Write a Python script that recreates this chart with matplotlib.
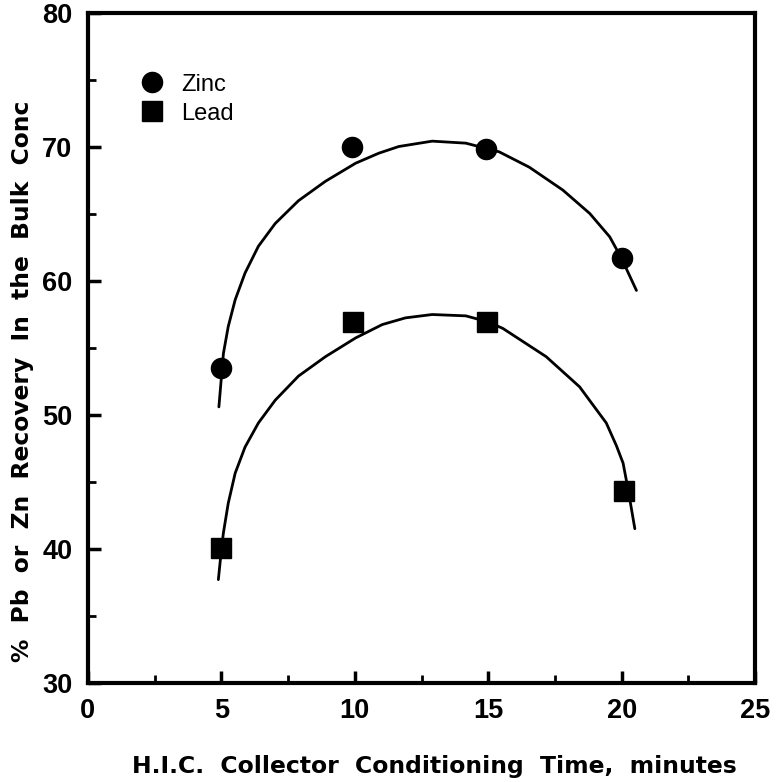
import matplotlib
matplotlib.use("Agg")
import matplotlib.pyplot as plt
from matplotlib.ticker import MultipleLocator

# Measured data points
time_zinc = [5.0, 9.9, 14.9, 20.0]
rec_zinc = [53.5, 70.0, 69.9, 61.7]
time_lead = [5.0, 9.95, 14.95, 20.08]
rec_lead = [40.05, 56.95, 56.95, 44.3]

# Hand-drawn trend curves
curve_zinc_x = [4.91, 5.08, 5.26, 5.52, 5.89, 6.39, 7.02, 7.89, 8.9, 10.03, 10.9, 11.65,
                12.9, 14.16, 15.41, 16.54, 17.79, 18.8, 19.55, 19.99, 20.55]
curve_zinc_y = [50.6, 54.6, 56.6, 58.6, 60.6, 62.6, 64.3, 66.0, 67.45, 68.8, 69.55, 70.05,
                70.45, 70.3, 69.65, 68.5, 66.8, 65.05, 63.3, 61.7, 59.3]
curve_lead_x = [4.89, 5.01, 5.08, 5.26, 5.52, 5.89, 6.39, 7.02, 7.89, 8.9, 10.03, 11.03,
                11.9, 12.9, 14.16, 14.97, 15.54, 17.17, 18.42, 19.42, 19.8, 20.05, 20.25,
                20.49]
curve_lead_y = [37.7, 40.05, 41.2, 43.4, 45.65, 47.6, 49.4, 51.1, 52.9, 54.35, 55.75, 56.75,
                57.25, 57.5, 57.4, 56.96, 56.47, 54.35, 52.1, 49.4, 47.7, 46.4, 44.3,
                41.5]

x_ticks = [0, 5, 10, 15, 20, 25]
y_ticks = [30, 40, 50, 60, 70, 80]

fig = plt.figure(figsize=(7.77, 7.82), dpi=100)
ax = fig.add_axes([0.113, 0.127, 0.859, 0.856])

ax.plot(curve_zinc_x, curve_zinc_y, color="black", lw=2.0, solid_capstyle="round",
        solid_joinstyle="round")
ax.plot(curve_lead_x, curve_lead_y, color="black", lw=2.0, solid_capstyle="round",
        solid_joinstyle="round")
ax.plot(time_zinc, rec_zinc, "o", color="black", ms=14.5, label="Zinc", zorder=3)
ax.plot(time_lead, rec_lead, "s", color="black", ms=14, label="Lead", zorder=3)

ax.set_xlim(0, 25)
ax.set_ylim(30, 80)
ax.set_xticks(x_ticks)
ax.set_yticks(y_ticks)
ax.xaxis.set_minor_locator(MultipleLocator(2.5))
ax.yaxis.set_minor_locator(MultipleLocator(5))
ax.tick_params(which="major", direction="in", length=9, width=2.5,
               top=False, right=False, labelsize=19.5, pad=11)
ax.tick_params(which="minor", direction="in", length=5.5, width=2,
               top=False, right=False)
for lab in ax.get_xticklabels() + ax.get_yticklabels():
    lab.set_family("Liberation Sans")
    lab.set_fontweight("bold")
for s in ax.spines.values():
    s.set_linewidth(3)
    s.set_color("black")

ax.set_xlabel("H.I.C.  Collector  Conditioning  Time,  minutes",
              fontsize=16.9, fontweight="bold", family="DejaVu Sans", labelpad=22)
ax.xaxis.label.set_x(0.52)
ax.set_ylabel("%  Pb  or  Zn  Recovery  In  the  Bulk  Conc",
              fontsize=16.8, fontweight="bold", family="DejaVu Sans", labelpad=6)
ax.yaxis.label.set_y(0.45)

leg = ax.legend(loc="upper left", bbox_to_anchor=(0.078, 0.91), frameon=False,
                prop={"family": "Liberation Sans", "size": 17},
                handlelength=1.0, handletextpad=0.75, labelspacing=0.3,
                borderaxespad=0, borderpad=0)

fig.savefig("out.png", dpi=100)
